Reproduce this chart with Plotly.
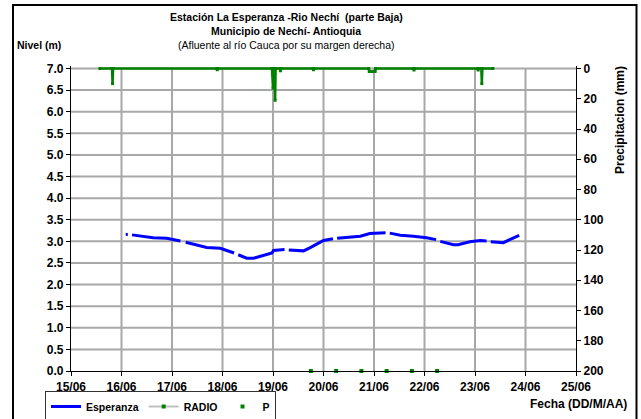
import plotly.graph_objects as go

# ---- Nivel (m) - estación Esperanza ----
esperanza_t = [
    "2010-06-16 02:00", "2010-06-16 03:00", "2010-06-16 04:00", "2010-06-16 05:00",
    "2010-06-16 15:00", "2010-06-16 21:30", "2010-06-17 04:00", "2010-06-17 05:00",
    "2010-06-17 06:30", "2010-06-17 13:30", "2010-06-17 16:30", "2010-06-17 23:00",
    "2010-06-18 02:00", "2010-06-18 05:30", "2010-06-18 06:30", "2010-06-18 07:30",
    "2010-06-18 11:30", "2010-06-18 14:45", "2010-06-18 19:30", "2010-06-18 23:30",
    "2010-06-19 00:15", "2010-06-19 05:30", "2010-06-19 06:30", "2010-06-19 07:30",
    "2010-06-19 14:30", "2010-06-19 17:30", "2010-06-20 00:00", "2010-06-20 04:30",
    "2010-06-20 05:30", "2010-06-20 06:30", "2010-06-20 11:00", "2010-06-20 17:30",
    "2010-06-20 22:00", "2010-06-21 05:30", "2010-06-21 06:30", "2010-06-21 07:30",
    "2010-06-21 12:30", "2010-06-21 18:45", "2010-06-22 01:00", "2010-06-22 05:30",
    "2010-06-22 06:30", "2010-06-22 07:30", "2010-06-22 13:45", "2010-06-22 16:00",
    "2010-06-22 21:30", "2010-06-23 02:30", "2010-06-23 05:30", "2010-06-23 06:30",
    "2010-06-23 07:30", "2010-06-23 13:30", "2010-06-23 16:30", "2010-06-23 21:00",
]
esperanza_nivel = [
    3.16, 3.16, None, 3.15,
    3.085, 3.07, 3.01, None,
    2.98, 2.89, 2.86, 2.84,
    2.79, 2.73, None, 2.69,
    2.61, 2.61, 2.68, 2.73,
    2.79, 2.81, None, 2.80,
    2.78, 2.85, 3.02, 3.06,
    None, 3.07, 3.085, 3.12,
    3.18, 3.20, None, 3.19,
    3.14, 3.12, 3.085, 3.04,
    None, 3.00, 2.92, 2.92,
    2.99, 3.02, 3.01, None,
    2.99, 2.97, 3.04, 3.14,
]

# ---- Precipitación (mm) - RADIO ----
radio_t = [
    "2010-06-15 13:45", "2010-06-15 19:30", "2010-06-15 19:45", "2010-06-15 20:00",
    "2010-06-17 21:15", "2010-06-17 21:30", "2010-06-17 21:45",
    "2010-06-18 23:30", "2010-06-19 00:00", "2010-06-19 00:15", "2010-06-19 00:45",
    "2010-06-19 01:00", "2010-06-19 01:15",
    "2010-06-19 03:15", "2010-06-19 03:30", "2010-06-19 03:45",
    "2010-06-19 19:00", "2010-06-19 19:15", "2010-06-19 19:30",
    "2010-06-20 21:30", "2010-06-20 21:45", "2010-06-20 23:00", "2010-06-21 00:30",
    "2010-06-21 00:45",
    "2010-06-21 18:45", "2010-06-21 19:00", "2010-06-21 19:15",
    "2010-06-23 01:15", "2010-06-23 01:30", "2010-06-23 01:45",
    "2010-06-23 03:00", "2010-06-23 03:15", "2010-06-23 03:30", "2010-06-23 08:30",
]
radio_mm = [
    0, 0, 10, 0,
    0, 0.8, 0,
    0, 13, 0, 0,
    21, 0,
    0, 1.5, 0,
    0, 0.8, 0,
    0, 2, 2, 2,
    0,
    0, 1, 0,
    0, 1, 0,
    0, 10, 0, 0,
]

# ---- P ----
p_t = ["2010-06-19 18:00", "2010-06-20 06:00", "2010-06-20 18:00",
       "2010-06-21 06:00", "2010-06-21 18:00", "2010-06-22 06:00"]
p_val = [0, 0, 0, 0, 0, 0]

# ---- axis ticks ----
fecha_ticks = ["2010-06-%02d" % d for d in range(15, 26)]
fecha_labels = ["%02d/06" % d for d in range(15, 26)]
nivel_ticks = [i * 0.5 for i in range(15)]
precip_ticks = list(range(0, 201, 20))

FONT = "Liberation Sans, Arial, sans-serif"
BLUE = "#0000ff"
GREEN = "#008000"
GRID = "#a8a8a8"

W, H = 641, 419
ML, MR, MT, MB = 71, 65, 66, 48
PW = W - ML - MR
PH = H - MT - MB


def xp(px):
    return (px - ML) / PW


def yp(py):
    return (H - MB - py) / PH


def bold(labels):
    return ["<b>%s</b>" % s for s in labels]


fig = go.Figure()

# grid drawn first so the series sit on top of it:
# one vertical line per day tick, one horizontal line per 0.5 m tick
grid_vx, grid_vy = [], []
for t in fecha_ticks[1:-1]:
    grid_vx += [t, t, None]
    grid_vy += [nivel_ticks[0], nivel_ticks[-1], None]
grid_hx, grid_hy = [], []
for v in nivel_ticks[1:]:
    grid_hx += [fecha_ticks[0], fecha_ticks[-1], None]
    grid_hy += [v, v, None]
for gx, gy in ((grid_vx, grid_vy), (grid_hx, grid_hy)):
    fig.add_trace(go.Scatter(
        x=gx, y=gy, mode="lines", line=dict(color=GRID, width=2),
        hoverinfo="skip", showlegend=False, connectgaps=False, yaxis="y",
    ))

fig.add_trace(go.Scatter(
    x=esperanza_t, y=esperanza_nivel, name="Esperanza", mode="lines",
    line=dict(color=BLUE, width=3), connectgaps=False, yaxis="y",
))
fig.add_trace(go.Scatter(
    x=radio_t, y=radio_mm, name="RADIO", mode="lines+markers",
    line=dict(color=GREEN, width=2.5), marker=dict(color=GREEN, size=3, symbol="square"),
    yaxis="y2", showlegend=False, cliponaxis=False,
))
# legend entry for RADIO (grey line, green point)
fig.add_trace(go.Scatter(
    x=[None], y=[None], name="RADIO", mode="lines+markers",
    line=dict(color="#c0c0c0", width=2), marker=dict(color=GREEN, size=4, symbol="square"),
    yaxis="y",
))
fig.add_trace(go.Scatter(
    x=p_t, y=p_val, name="P", mode="markers",
    marker=dict(color=GREEN, size=4, symbol="square"), yaxis="y", cliponaxis=False,
))

y_top = 7 + 2.5 / (302.5 / 7)
mm_top = -2.5 / (302.5 / 200)

fig.update_layout(
    template="none",
    width=W, height=H,
    margin=dict(l=ML, r=MR, t=MT, b=MB, autoexpand=False),
    paper_bgcolor="white", plot_bgcolor="white",
    font=dict(family=FONT, color="black"),
    xaxis=dict(
        type="date", range=["2010-06-15", "2010-06-25"],
        tickmode="array", tickvals=fecha_ticks, ticktext=bold(fecha_labels),
        showgrid=False,
        showline=True, linecolor="black", linewidth=1.2,
        ticks="outside", ticklen=4, tickcolor="black",
        tickfont=dict(size=12), zeroline=False,
    ),
    yaxis=dict(
        range=[0, y_top], tickmode="array", tickvals=nivel_ticks,
        ticktext=bold(["%.1f" % v for v in nivel_ticks]),
        showgrid=False,
        showline=True, linecolor="black", linewidth=1.2,
        ticks="outside", ticklen=4, tickcolor="black",
        tickfont=dict(size=12), zeroline=False,
    ),
    yaxis2=dict(
        range=[200, mm_top], tickmode="array", tickvals=precip_ticks,
        ticktext=bold([str(v) for v in precip_ticks]),
        overlaying="y", side="right", anchor="x",
        showgrid=False, showline=True, linecolor="black", linewidth=1.2,
        ticks="outside", ticklen=4, tickcolor="black",
        tickfont=dict(size=12), zeroline=False,
    ),
    legend=dict(
        orientation="h", x=xp(45), y=yp(391), xanchor="left", yanchor="top",
        bordercolor="#333333", borderwidth=1, bgcolor="white",
        font=dict(size=10.5, weight="bold"), itemwidth=30,
    ),
    showlegend=True,
)

ann = [
    dict(text="<b>Estación La Esperanza -Rio Nechí  (parte Baja)</b>", x=xp(286), y=yp(17.5), size=10.5),
    dict(text="<b>Municipio de Nechí- Antioquia</b>", x=xp(286), y=yp(31), size=10.5),
    dict(text="(Afluente al río Cauca por su margen derecha)", x=xp(286), y=yp(44.5), size=10.5),
    dict(text="<b>Nivel (m)</b>", x=xp(39), y=yp(45), size=10.5),
    dict(text="<b>Fecha (DD/M/AA)</b>", x=xp(578.5), y=yp(404), size=12),
]
for a in ann:
    fig.add_annotation(
        text=a["text"], x=a["x"], y=a["y"], xref="paper", yref="paper",
        xanchor="center", yanchor="middle", showarrow=False,
        font=dict(size=a["size"], family=FONT, color="black"),
    )
fig.add_annotation(
    text="<b>Precipitacion (mm)</b>", x=xp(620), y=yp(120), xref="paper", yref="paper",
    xanchor="center", yanchor="middle", showarrow=False, textangle=-90,
    font=dict(size=12, family=FONT, color="black"),
)

# outer frame of the chart
fig.add_shape(
    type="rect", xref="paper", yref="paper",
    x0=xp(13), x1=xp(636.5), y0=yp(430), y1=yp(5),
    line=dict(color="black", width=2), layer="above",
)

fig.write_html("out.html")
